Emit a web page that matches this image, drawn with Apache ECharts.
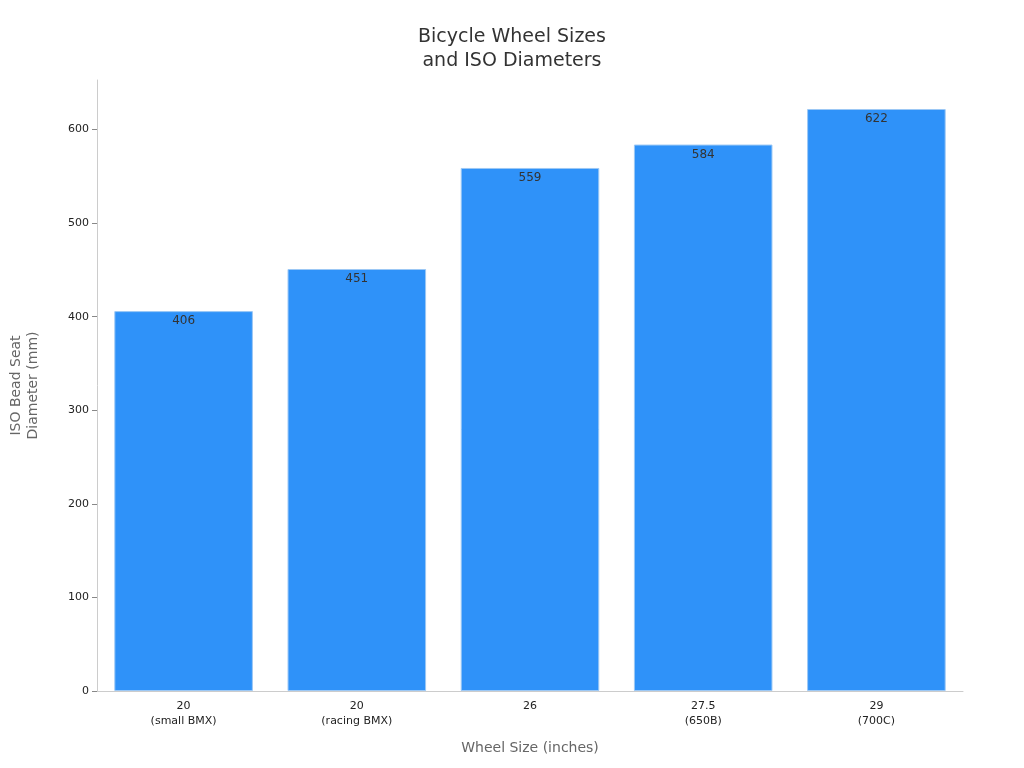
<!DOCTYPE html>
<html><head><meta charset="utf-8">
<script src="https://cdn.jsdelivr.net/npm/echarts@6/dist/echarts.min.js"></script>
<style>html,body{margin:0;padding:0;background:#fff}#c{width:1024px;height:768px}</style>
</head><body><div id="c"></div>
<script>
const categories = ["20\n(small BMX)", "20\n(racing BMX)", "26", "27.5\n(650B)", "29\n(700C)"];
const diameters = [406, 451, 559, 584, 622];
const chart = echarts.init(document.getElementById('c'));
chart.setOption({
  animation: false,
  textStyle: { fontFamily: 'DejaVu Sans' },
  title: { text: 'Bicycle Wheel Sizes\nand ISO Diameters', left: 'center', top: 20,
    textStyle: { fontSize: 19, fontWeight: 'normal', color: '#333', lineHeight: 24, fontFamily: 'DejaVu Sans' } },
  grid: { left: 87, right: 61, top: 80, bottom: 77 },
  xAxis: { type: 'category', data: categories, name: 'Wheel Size (inches)', nameLocation: 'middle', nameGap: 50,
    nameTextStyle: { color: '#666', fontSize: 14 },
    axisLine: { lineStyle: { color: '#ccc' } }, axisTick: { show: false },
    axisLabel: { color: '#222', fontSize: 11, lineHeight: 15 } },
  yAxis: { type: 'value', min: 0, max: 653, interval: 100, name: 'ISO Bead Seat\nDiameter (mm)', nameLocation: 'middle', nameGap: 55,
    nameTextStyle: { color: '#666', fontSize: 14, lineHeight: 17 },
    axisLine: { show: true, lineStyle: { color: '#ccc' } }, axisTick: { show: true, lineStyle: { color: '#888' } },
    splitLine: { show: false }, axisLabel: { color: '#222', fontSize: 11, showMaxLabel: false } },
  series: [{ type: 'bar', data: diameters, barCategoryGap: '20%',
    itemStyle: { color: '#2f92f9', borderColor: '#9cc8f5', borderWidth: 1 },
    label: { show: true, position: 'insideTop', color: '#333', fontSize: 12, distance: 4 } }]
});
</script></body></html>
